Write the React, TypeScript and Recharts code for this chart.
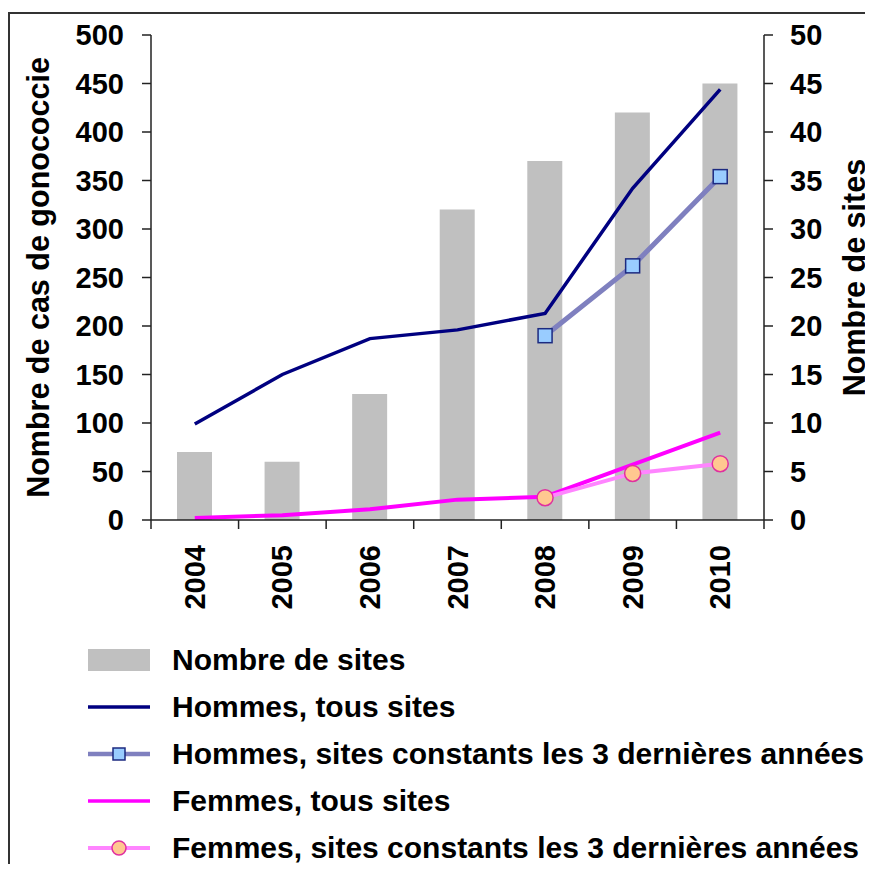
import { Bar, ComposedChart, Legend, Line, XAxis, YAxis } from "recharts";

const years = ["2004", "2005", "2006", "2007", "2008", "2009", "2010"];
const nombreSites = [7, 6, 13, 32, 37, 42, 45];
const hommesTous = [99, 150, 187, 196, 213, 342, 444];
const hommesConstants = [null, null, null, null, 190, 262, 354];
const femmesTous = [2, 5, 11, 21, 24, 57, 90];
const femmesConstants = [null, null, null, null, 23, 48, 58];
const casTicks = [0, 50, 100, 150, 200, 250, 300, 350, 400, 450, 500];
const sitesTicks = [0, 5, 10, 15, 20, 25, 30, 35, 40, 45, 50];

const data = years.map((year, i) => ({
  year,
  sites: nombreSites[i],
  hommesTous: hommesTous[i],
  hommesConstants: hommesConstants[i],
  femmesTous: femmesTous[i],
  femmesConstants: femmesConstants[i],
}));

const FONT = "'Liberation Sans', Arial, sans-serif";
const W = 865;
const H = 856;
const LEFT_W = 143;
const RIGHT_W = 109;
const BAND = (W - LEFT_W - RIGHT_W) / years.length;
const AXIS = "#222";

const textStyle = { fill: "#000", fontSize: 29, fontWeight: "bold", fontFamily: FONT };
const titleStyle = { ...textStyle, fontSize: 30.5 };

const legendItems = [
  { key: "sites", name: "Nombre de sites" },
  { key: "hommesTous", name: "Hommes, tous sites" },
  { key: "hommesConstants", name: "Hommes, sites constants les 3 dernières années" },
  { key: "femmesTous", name: "Femmes, tous sites" },
  { key: "femmesConstants", name: "Femmes, sites constants les 3 dernières années" },
];

function LegendIcon({ id }: { id: string }) {
  if (id === "sites") return <rect x={0} y={9} width={62} height={22} fill="#c0c0c0" />;
  if (id === "hommesTous") return <line x1={0} y1={20} x2={62} y2={20} stroke="#000080" strokeWidth={3.5} />;
  if (id === "femmesTous") return <line x1={0} y1={20} x2={62} y2={20} stroke="#ff00ff" strokeWidth={3.5} />;
  if (id === "hommesConstants")
    return (
      <g>
        <line x1={0} y1={20} x2={62} y2={20} stroke="#7f80bf" strokeWidth={4.5} />
        <rect x={25} y={14} width={12} height={12} fill="#99ccff" stroke="#1c2a80" strokeWidth={1.5} />
      </g>
    );
  return (
    <g>
      <line x1={0} y1={20} x2={62} y2={20} stroke="#ff85ff" strokeWidth={4} />
      <circle cx={31} cy={20} r={7} fill="#ffc890" stroke="#e0309f" strokeWidth={1.5} />
    </g>
  );
}

function LegendContent() {
  return (
    <div style={{ position: "relative", width: W, height: 240, fontFamily: FONT, fontWeight: "bold", fontSize: 30, color: "#000" }}>
      {legendItems.map((item, i) => (
        <div
          key={item.key}
          style={{ position: "absolute", left: 80, top: 16 + i * 47, height: 40, display: "flex", alignItems: "center", whiteSpace: "nowrap" }}
        >
          <svg width={62} height={40}>
            <LegendIcon id={item.key} />
          </svg>
          <span style={{ marginLeft: 22 }}>{item.name}</span>
        </div>
      ))}
    </div>
  );
}

function YearTick(props: any) {
  const { x, y, payload, index } = props;
  const last = index === years.length - 1;
  return (
    <g>
      <line x1={x - BAND / 2} y1={y} x2={x - BAND / 2} y2={y + 9} stroke={AXIS} strokeWidth={1.5} />
      {last && <line x1={x + BAND / 2} y1={y} x2={x + BAND / 2} y2={y + 9} stroke={AXIS} strokeWidth={1.5} />}
      <text
        x={x}
        y={y + 25}
        transform={`rotate(-90, ${x}, ${y + 25})`}
        textAnchor="end"
        dominantBaseline="central"
        {...textStyle}
      >
        {payload.value}
      </text>
    </g>
  );
}

function SquareDot(props: any) {
  const { cx, cy, value, index } = props;
  if (value == null || cx == null || cy == null) return <g key={`sq-${index}`} />;
  return <rect key={`sq-${index}`} x={cx - 7} y={cy - 7} width={14} height={14} fill="#99ccff" stroke="#1c2a80" strokeWidth={1.5} />;
}

function CircleDot(props: any) {
  const { cx, cy, value, index } = props;
  if (value == null || cx == null || cy == null) return <g key={`ci-${index}`} />;
  return <circle key={`ci-${index}`} cx={cx} cy={cy} r={8} fill="#ffc890" stroke="#e0309f" strokeWidth={1.5} />;
}

export default function App() {
  return (
    <div style={{ position: "relative", width: W, height: H, overflow: "hidden", background: "#fff" }}>
      <style>{"html, body { overflow: hidden; }"}</style>
      <div
        style={{
          position: "absolute",
          left: 0,
          top: 4,
          width: 2000,
          height: 2000,
          borderLeft: "2px solid #333",
          borderTop: "2px solid #333",
        }}
      />
      <ComposedChart width={W} height={H} data={data} margin={{ top: 27, right: 0, bottom: 0, left: 0 }}>
        <XAxis
          dataKey="year"
          height={104}
          axisLine={{ stroke: AXIS, strokeWidth: 1.5 }}
          tickLine={false}
          tickSize={0}
          tickMargin={0}
          tick={<YearTick />}
          interval={0}
        />
        <YAxis
          yAxisId="left"
          orientation="left"
          width={LEFT_W}
          domain={[0, 500]}
          ticks={casTicks}
          interval={0}
          axisLine={{ stroke: AXIS, strokeWidth: 1.5 }}
          tickLine={{ stroke: AXIS, strokeWidth: 1.5 }}
          tickSize={9}
          tickMargin={18}
          tick={textStyle}
          label={{ value: "Nombre de cas de gonococcie", angle: -90, position: "center", dx: -41, style: titleStyle }}
        />
        <YAxis
          yAxisId="right"
          orientation="right"
          width={RIGHT_W}
          domain={[0, 50]}
          ticks={sitesTicks}
          interval={0}
          axisLine={{ stroke: AXIS, strokeWidth: 1.5 }}
          tickLine={{ stroke: AXIS, strokeWidth: 1.5 }}
          tickSize={9}
          tickMargin={17}
          tick={textStyle}
          label={{ value: "Nombre de sites", angle: -90, position: "center", dx: 36, style: titleStyle }}
        />
        <Legend
          verticalAlign="bottom"
          align="left"
          content={<LegendContent />}
          wrapperStyle={{ left: 0, width: W, height: 240 }}
        />
        <Bar yAxisId="right" dataKey="sites" name="Nombre de sites" fill="#c0c0c0" barSize={35} isAnimationActive={false} />
        <Line
          yAxisId="left"
          dataKey="hommesTous"
          name="Hommes, tous sites"
          stroke="#000080"
          strokeWidth={3.5}
          dot={false}
          isAnimationActive={false}
        />
        <Line
          yAxisId="left"
          dataKey="hommesConstants"
          name="Hommes, sites constants les 3 dernières années"
          stroke="#7f80bf"
          strokeWidth={5}
          dot={SquareDot}
          isAnimationActive={false}
        />
        <Line
          yAxisId="left"
          dataKey="femmesTous"
          name="Femmes, tous sites"
          stroke="#ff00ff"
          strokeWidth={4}
          dot={false}
          isAnimationActive={false}
        />
        <Line
          yAxisId="left"
          dataKey="femmesConstants"
          name="Femmes, sites constants les 3 dernières années"
          stroke="#ff85ff"
          strokeWidth={4}
          dot={CircleDot}
          isAnimationActive={false}
        />
      </ComposedChart>
    </div>
  );
}
